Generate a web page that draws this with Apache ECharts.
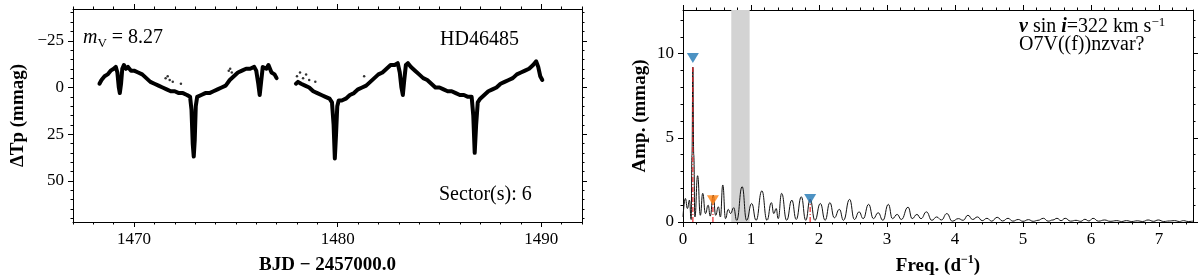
<!DOCTYPE html>
<html><head><meta charset="utf-8">
<script src="https://cdn.jsdelivr.net/npm/echarts@6/dist/echarts.min.js"></script>
<style>html,body{margin:0;padding:0;background:#fff}#c{width:1200px;height:277px}</style>
</head><body><div id="c"></div>
<script>
// ---- Light curve (segment 1) ----
const lcTime1 = [1468.30,1468.40,1468.55,1468.70,1468.85,1469.00,1469.10,1469.18,1469.25,1469.30,1469.36,1469.42,1469.50,1469.60,1469.70,1469.85,1470.00,1470.20,1470.40,1470.60,1470.80,1471.00,1471.20,1471.40,1471.60,1471.80,1472.00,1472.20,1472.40,1472.60,1472.75,1472.82,1472.88,1472.93,1472.98,1473.03,1473.10,1473.30,1473.50,1473.70,1473.90,1474.10,1474.30,1474.50,1474.70,1474.90,1475.10,1475.30,1475.50,1475.70,1475.90,1476.00,1476.10,1476.17,1476.24,1476.32,1476.40,1476.50,1476.60,1476.75,1476.90,1477.00];
const lcMag1  = [-2,-4,-6,-7,-9,-10,-11,-8,0,3,-2,-10,-12,-10,-11,-9,-9,-8,-7,-5,-3,-2,-1,0,1,2,2,3,3,4,5,12,30,37,28,10,5,4,3,3,2,1,0,-1,-4,-6,-8,-9,-10,-10,-11,-9,-2,4,-3,-11,-12,-10,-12,-8,-7,-5];
// ---- Light curve (segment 2) ----
const lcTime2 = [1477.95,1478.05,1478.20,1478.40,1478.60,1478.80,1479.00,1479.20,1479.40,1479.60,1479.72,1479.80,1479.86,1479.92,1479.98,1480.05,1480.20,1480.40,1480.60,1480.80,1481.00,1481.20,1481.40,1481.60,1481.80,1482.00,1482.20,1482.40,1482.60,1482.80,1482.95,1483.05,1483.13,1483.20,1483.27,1483.35,1483.45,1483.60,1483.80,1484.00,1484.20,1484.40,1484.60,1484.80,1485.00,1485.20,1485.40,1485.60,1485.80,1486.00,1486.20,1486.40,1486.58,1486.66,1486.73,1486.80,1486.88,1487.00,1487.20,1487.40,1487.60,1487.80,1488.00,1488.20,1488.40,1488.60,1488.80,1489.00,1489.20,1489.40,1489.60,1489.75,1489.85,1489.95,1490.05];
const lcMag2  = [-2,-3,-2,-1,0,2,3,4,5,6,8,20,38,25,10,7,7,6,4,3,1,0,-1,-3,-5,-7,-8,-10,-12,-12,-13,-8,0,4,-4,-12,-13,-11,-9,-7,-5,-4,-2,0,0,1,2,2,3,4,4,5,5,15,35,20,8,6,4,2,1,0,-2,-3,-4,-5,-7,-8,-9,-10,-12,-14,-11,-6,-4];
// ---- scattered outlier points ----
const outT = [1471.55,1471.65,1471.75,1471.90,1472.30,1474.65,1474.72,1474.80,1478.00,1478.15,1478.30,1478.45,1478.60,1478.90,1481.30];
const outM = [-5,-6,-4,-3,-2,-9,-10,-8,-6,-8,-5,-7,-4,-3,-6];

// ---- Periodogram ----
const freq = [0.00,0.035,0.065,0.095,0.12,0.132,0.145,0.158,0.175,0.215,0.255,0.29,0.33,0.37,0.40,0.445,0.48,0.52,0.55,0.585,0.625,0.665,0.70,0.745,0.79,0.87,0.935,1.01,1.075,1.16,1.235,1.30,1.335,1.37,1.40,1.45,1.525,1.60,1.665,1.74,1.805,1.87,1.94,2.02,2.09,2.16,2.225,2.30,2.36,2.45,2.52,2.59,2.65,2.73,2.80,2.87,2.94,3.02,3.08,3.15,3.21,3.31,3.37,3.44,3.50,3.58,3.66,3.73,3.80,3.88,3.96,4.05,4.12,4.19,4.26,4.33,4.40,4.47,4.54,4.62,4.70,4.78,4.85,4.93,5.00,5.08,5.15,5.22,5.30,5.37,5.44,5.50,5.56,5.62,5.70,5.78,5.85,5.91,5.97,6.03,6.11,6.20,6.28,6.38,6.45,6.52,6.60,6.68,6.76,6.84,6.92,6.99,7.07,7.15,7.23,7.30,7.36,7.43,7.50];
const amp  = [0.3,1.4,0.8,1.3,0.15,4.0,9.2,4.0,0.3,2.75,0.4,1.7,0.5,1.0,0.35,1.6,0.4,0.9,0.3,2.2,0.2,0.75,0.5,0.85,0.1,2.1,0.1,1.1,0.1,1.85,0.1,1.15,0.5,0.8,0.2,1.7,0.1,1.3,0.15,1.5,0.1,1.35,0.1,1.1,0.1,1.15,0.25,0.75,0.1,1.35,0.15,0.6,0.2,1.05,0.2,0.55,0.1,1.05,0.2,0.45,0.15,0.88,0.2,0.45,0.2,0.6,0.1,0.3,0.12,0.5,0.05,0.2,0.1,0.4,0.15,0.3,0.08,0.22,0.05,0.28,0.06,0.22,0.05,0.15,0.04,0.14,0.04,0.1,0.22,0.05,0.12,0.22,0.08,0.22,0.05,0.1,0.04,0.16,0.06,0.22,0.05,0.12,0.04,0.08,0.03,0.08,0.03,0.07,0.03,0.12,0.04,0.12,0.03,0.06,0.08,0.03,0.08,0.03,0.05];
// identified frequencies (line tops) and marker positions
const peakFreq = [0.145, 0.44, 1.87];
const peakAmp  = [9.2, 1.35, 1.35];
const markAmp  = [9.75, 1.3, 1.37];
const markColor = ['#1f77b4', '#ff7f0e', '#1f77b4'];
const band = [0.71, 0.98];

// ---- tick labels ----
const lcXMajor = [1470, 1480, 1490];
const lcYMajor = [-25, 0, 25, 50];
const pgXMajor = [0, 1, 2, 3, 4, 5, 6, 7];
const pgYMajor = [0, 5, 10];

function steps(a, b, s) { const r = []; for (let v = a; v <= b + 1e-9; v += s) r.push(Math.round(v * 1000) / 1000); return r; }
const zip = (a, b) => a.map((v, i) => [v, b[i]]);

const FONT = "'Liberation Serif','DejaVu Serif',serif";
function axis(o) {
  const a = {
    type: 'value', gridIndex: o.grid, position: o.pos, min: o.min, max: o.max, inverse: !!o.inverse,
    splitLine: { show: false },
    axisLine: { show: !o.minor, onZero: false, lineStyle: { color: '#000', width: 1 } },
    axisTick: { show: true, inside: false, length: o.minor ? 2.5 : 5, customValues: o.ticks, lineStyle: { color: '#000', width: 1 } },
    axisLabel: { show: !!o.labels, customValues: o.ticks, margin: o.margin || 8, color: '#000', fontSize: 17, fontFamily: FONT,
      formatter: v => (v < 0 ? '\u2212' + Math.abs(v) : String(v)) },
    minorTick: { show: false }
  };
  if (o.name) {
    a.name = o.name; a.nameLocation = 'middle'; a.nameGap = o.nameGap;
    if (o.nameRotate != null) a.nameRotate = o.nameRotate;
    a.nameTextStyle = { color: '#000', fontSize: 19, fontWeight: 'bold', fontFamily: FONT,
      rich: { sup: { fontSize: 12, fontWeight: 'bold', fontFamily: FONT, color: '#000', verticalAlign: 'top', lineHeight: 12 },
              n: { fontSize: 19, fontWeight: 'bold', fontFamily: FONT, color: '#000', lineHeight: 24 } } };
  }
  return a;
}

const xAxes = [
  axis({ grid: 0, pos: 'bottom', min: 1467, max: 1492, ticks: lcXMajor, labels: true, margin: 9, name: 'BJD \u2212 2457000.0', nameGap: 34 }),
  axis({ grid: 0, pos: 'bottom', min: 1467, max: 1492, ticks: steps(1467, 1492, 1), minor: true }),
  axis({ grid: 0, pos: 'top', min: 1467, max: 1492, ticks: lcXMajor }),
  axis({ grid: 0, pos: 'top', min: 1467, max: 1492, ticks: steps(1467, 1492, 1), minor: true }),
  axis({ grid: 1, pos: 'bottom', min: 0, max: 7.5, ticks: pgXMajor, labels: true, margin: 9, name: '{n|Freq. (d}{sup|\u22121}{n|)}', nameGap: 32 }),
  axis({ grid: 1, pos: 'bottom', min: 0, max: 7.5, ticks: steps(0, 7.4, 0.2), minor: true }),
  axis({ grid: 1, pos: 'top', min: 0, max: 7.5, ticks: pgXMajor }),
  axis({ grid: 1, pos: 'top', min: 0, max: 7.5, ticks: steps(0, 7.4, 0.2), minor: true })
];
const yAxes = [
  axis({ grid: 0, pos: 'left', min: -42, max: 72, inverse: true, ticks: lcYMajor, labels: true, margin: 9, name: '\u0394Tp (mmag)', nameGap: 45, nameRotate: 90 }),
  axis({ grid: 0, pos: 'left', min: -42, max: 72, inverse: true, ticks: steps(-40, 70, 5), minor: true }),
  axis({ grid: 0, pos: 'right', min: -42, max: 72, inverse: true, ticks: lcYMajor }),
  axis({ grid: 0, pos: 'right', min: -42, max: 72, inverse: true, ticks: steps(-40, 70, 5), minor: true }),
  axis({ grid: 1, pos: 'left', min: 0, max: 12.6, ticks: pgYMajor, labels: true, margin: 9, name: 'Amp. (mmag)', nameGap: 33, nameRotate: 90 }),
  axis({ grid: 1, pos: 'left', min: 0, max: 12.6, ticks: steps(0, 12, 1), minor: true }),
  axis({ grid: 1, pos: 'right', min: 0, max: 12.6, ticks: pgYMajor }),
  axis({ grid: 1, pos: 'right', min: 0, max: 12.6, ticks: steps(0, 12, 1), minor: true })
];

const series = [
  { type: 'line', xAxisIndex: 0, yAxisIndex: 0, data: zip(lcTime1, lcMag1), showSymbol: false, symbol: 'none',
    lineStyle: { color: '#000', width: 4, join: 'round', cap: 'round' }, z: 3 },
  { type: 'line', xAxisIndex: 0, yAxisIndex: 0, data: zip(lcTime2, lcMag2), showSymbol: false, symbol: 'none',
    lineStyle: { color: '#000', width: 4, join: 'round', cap: 'round' }, z: 3 },
  { type: 'scatter', xAxisIndex: 0, yAxisIndex: 0, data: zip(outT, outM), symbolSize: 2.5, itemStyle: { color: '#000' }, z: 3 },
  { type: 'line', xAxisIndex: 4, yAxisIndex: 4, data: zip(freq, amp), showSymbol: false, symbol: 'none',
    smooth: 0.5, smoothMonotone: 'x', lineStyle: { color: '#111', width: 1 }, z: 3,
    markArea: { silent: true, itemStyle: { color: '#d3d3d3' }, data: [[{ xAxis: band[0] }, { xAxis: band[1] }]] } }
];
peakFreq.forEach((f, i) => {
  series.push({ type: 'line', xAxisIndex: 4, yAxisIndex: 4, data: [[f, 0], [f, peakAmp[i]]], showSymbol: false, symbol: 'none',
    lineStyle: { color: '#e8262b', width: 1.2, type: [5, 2, 1, 2] }, z: 4 });
});
series.push({ type: 'scatter', xAxisIndex: 4, yAxisIndex: 4, data: peakFreq.map((f, i) => ({ value: [f, markAmp[i]], itemStyle: { color: markColor[i] } })),
  symbol: 'triangle', symbolRotate: 180, symbolSize: [12, 10], z: 5 });

const txt = { fontFamily: FONT, fontSize: 20, fill: '#000' };
const option = {
  animation: false,
  backgroundColor: '#fff',
  grid: [
    { left: 73, top: 9, width: 509, height: 213, containLabel: false, outerBoundsMode: 'none' },
    { left: 683, top: 10, width: 510, height: 212, containLabel: false, outerBoundsMode: 'none' }
  ],
  xAxis: xAxes,
  yAxis: yAxes,
  series: series,
  graphic: [
    { type: 'text', x: 83, y: 38, style: { text: '{i|m}{s|V}{r| = 8.27}', verticalAlign: 'middle', align: 'left',
      rich: { i: { fontFamily: FONT, fontSize: 20, fontStyle: 'italic', lineHeight: 24 }, s: { fontFamily: FONT, fontSize: 13, lineHeight: 13, verticalAlign: 'bottom' }, r: { fontFamily: FONT, fontSize: 20, lineHeight: 24 } } } },
    { type: 'text', x: 440, y: 40, style: Object.assign({ text: 'HD46485', verticalAlign: 'middle', align: 'left' }, txt) },
    { type: 'text', x: 439, y: 195, style: Object.assign({ text: 'Sector(s): 6', verticalAlign: 'middle', align: 'left' }, txt) },
    { type: 'text', x: 1019, y: 27, style: { text: '{i|v}{r| sin }{i|i}{r|=322 km s}{s|\u22121}', verticalAlign: 'middle', align: 'left',
      rich: { i: { fontFamily: FONT, fontSize: 20, fontStyle: 'italic', fontWeight: 'bold', lineHeight: 22 }, r: { fontFamily: FONT, fontSize: 20, lineHeight: 22 }, s: { fontFamily: FONT, fontSize: 13, lineHeight: 13, verticalAlign: 'top' } } } },
    { type: 'text', x: 1019, y: 45, style: Object.assign({ text: 'O7V((f))nzvar?', verticalAlign: 'middle', align: 'left' }, txt) }
  ]
};
const chart = echarts.init(document.getElementById('c'), null, { renderer: 'canvas' });
chart.setOption(option);
</script></body></html>
